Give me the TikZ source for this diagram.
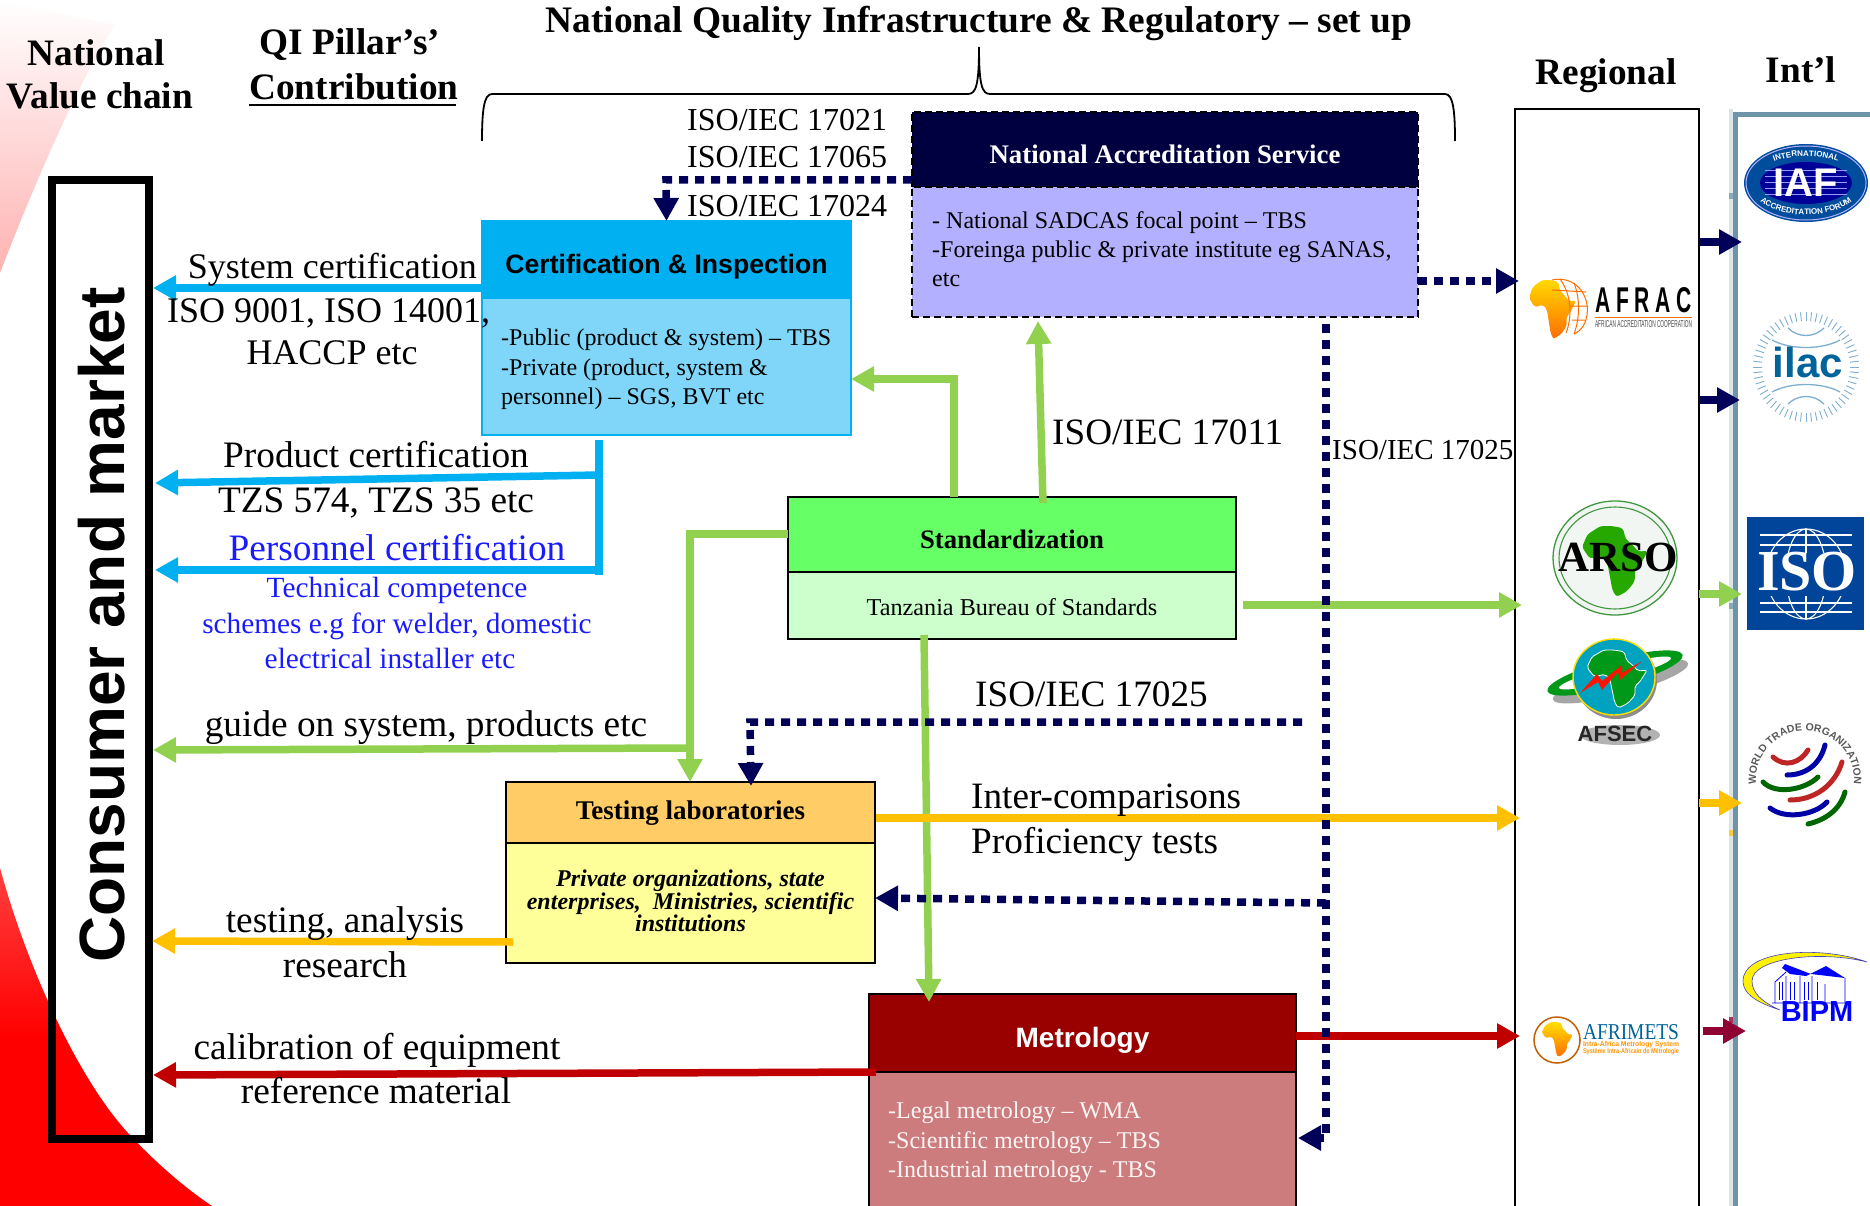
\documentclass[tikz,border=0pt]{standalone}
\usepackage{fontspec}
\usepackage{graphicx}
\setmainfont{Liberation Serif}
\setsansfont{Liberation Sans}
\usetikzlibrary{arrows.meta,decorations.text,calc}
\definecolor{cblue}{HTML}{00B0F0}
\definecolor{cbluebody}{HTML}{7FD6F8}
\definecolor{cnavy}{HTML}{000058}
\definecolor{cnavyhead}{HTML}{000040}
\definecolor{cviolet}{HTML}{B3B0FF}
\definecolor{cgreen}{HTML}{92D050}
\definecolor{cstd}{HTML}{66FF66}
\definecolor{cstdbody}{HTML}{CCFFCC}
\definecolor{cgold}{HTML}{FFC000}
\definecolor{ctest}{HTML}{FFCC66}
\definecolor{ctestbody}{HTML}{FFFF99}
\definecolor{cred}{HTML}{C00000}
\definecolor{cmet}{HTML}{990000}
\definecolor{cmetbody}{HTML}{CC7C7C}
\definecolor{cmaroon}{HTML}{8F0033}
\definecolor{cframe}{HTML}{6D94A8}
\definecolor{ctxtblue}{HTML}{1A1AFF}
\newcommand{\tsize}[1]{\fontsize{#1}{#1}\selectfont}
\newcommand{\africashape}{(0.28,0)--(0.45,0)--(0.62,0.03)--(0.66,0.18)--(0.78,0.28)--(0.85,0.36)--(1,0.35)--(0.88,0.55)--(0.8,0.62)--(0.8,0.78)--(0.68,0.92)--(0.52,1)--(0.46,0.9)--(0.42,0.7)--(0.38,0.5)--(0.3,0.42)--(0.12,0.46)--(0,0.3)--(0.08,0.12)--cycle}
\tikzset{
  x=1pt,y=-1pt,
  lab/.style={inner sep=0pt,anchor=base,font=\tsize{37.3}},
  labw/.style={inner sep=0pt,anchor=base west,font=\tsize{37.2}},
  blab/.style={lab,text=ctxtblue},
  head/.style={inner sep=0pt,font=\tsize{27}\bfseries,text depth=0pt,
    minimum width=#1,outer sep=0pt},
  bodybox/.style={inner sep=0pt,minimum width=#1,outer sep=0pt},
  bodytxt/.style={inner sep=0pt,anchor=north west,align=left,font=\fontsize{24}{29.3}\selectfont},
  accrdash/.style={draw=black,dash pattern=on 7pt off 4pt,line width=2pt},
  solidarrow/.style={line width=7.5pt,color=#1,line join=miter,-{Triangle[length=23pt,width=24pt]}},
  dotarrow/.style={line width=7.5pt,color=cnavy,dash pattern=on 9pt off 7pt,line join=miter,-{Triangle[length=23pt,width=24pt]}},
  plainbar/.style={line width=7.5pt,color=#1}
}
\begin{document}
\begin{tikzpicture}
\useasboundingbox (0,0) rectangle (1870,1206);
\clip (0,0) rectangle (1870,1206);
% background swooshes
\shade[top color=white,bottom color=red!30] (0,0) -- (115,25) .. controls (80,80) and (40,170) .. (0,273) -- cycle;
\shade[top color=red!75,bottom color=red,middle color=red] (0,868) .. controls (25,960) and (75,1075) .. (128,1133) .. controls (155,1162) and (185,1188) .. (212,1206) -- (0,1206) -- cycle;

% frames
\node[draw=black,line width=8pt,minimum width=97pt,minimum height=959pt,inner sep=0pt] (consumer) at (100.5,659.5) {};
\node[rotate=90,inner sep=0pt,font=\sffamily\bfseries\tsize{64}] (consumertxt) at (101.5,625) {Consumer and market};
\node[draw=black,line width=2.5pt,minimum width=184pt,minimum height=1107pt,inner sep=0pt,outer sep=0pt] (reg) at (1607,662.5) {};
\fill[cframe!25] (1729,109) rectangle (1733,1206);
\node[draw=cframe,line width=5pt,minimum width=150pt,minimum height=1101pt,inner sep=0pt,outer sep=0pt] (intl) at (1810,665.5) {};
\foreach \yy/\cc in {196/cframe,606/cframe,833/cgold,1020/cmaroon} \fill[\cc!80] (1729,\yy-3) rectangle (1733,\yy+3);

% brace
\draw[line width=1.8pt,black] (482,141) .. controls (482,110) and (484,94) .. (492,94) -- (968,94) .. controls (976,94) and (979,85) .. (979,47) .. controls (979,85) and (982,94) .. (990,94) -- (1445,94) .. controls (1453,94) and (1455,110) .. (1455,141);

% boxes
\node[head=369pt,fill=cblue,draw=cblue,line width=1.5pt,minimum height=77pt,text height=27pt,font=\sffamily\bfseries\tsize{26.6}] (certhead) at (666.5,259.5) {Certification \& Inspection};
\node[bodybox=369pt,fill=cbluebody,draw=cblue,line width=2pt,minimum height=137pt] (certbody) at (666.5,366.5) {};
\node[head=506pt,fill=cnavyhead,accrdash,minimum height=75pt,text height=28pt,text=white,font=\bfseries\tsize{26.8}] (accrhead) at (1165,149.5) {National Accreditation Service};
\node[bodybox=506pt,fill=cviolet,accrdash,minimum height=130pt] (accrbody) at (1165,252) {};
\node[head=448pt,fill=cstd,draw=black,line width=2pt,minimum height=75pt,text height=28pt,font=\bfseries\tsize{26.7}] (stdhead) at (1012,534.5) {Standardization};
\node[bodybox=448pt,fill=cstdbody,draw=black,line width=2pt,minimum height=67pt,text height=19pt,text depth=0pt,font=\tsize{24.2}] (stdbody) at (1012,605.5) {Tanzania Bureau of Standards};
\node[head=369pt,fill=ctest,draw=black,line width=2pt,minimum height=61pt,text height=14pt,font=\bfseries\tsize{27}] (testhead) at (690.5,812.5) {Testing laboratories};
\node[bodybox=369pt,fill=ctestbody,draw=black,line width=2pt,minimum height=120pt] (testbody) at (690.5,903) {};
\node[head=427pt,fill=cmet,draw=black,line width=2pt,minimum height=78pt,text height=28pt,text=white,font=\sffamily\bfseries\tsize{28}] (methead) at (1082.5,1033) {Metrology};
\node[bodybox=427pt,fill=cmetbody,draw=black,line width=2pt,minimum height=144pt] (metbody) at (1082.5,1144) {};

% named junctions
\coordinate (ySys) at (0,288);
\coordinate (barTop) at (599,440);
\coordinate (barBot) at (599,575);
\coordinate (prodS) at (599,475);
\coordinate (prodE) at (155,483);
\coordinate (persS) at (599,570);
\coordinate (persE) at (155,570);
\coordinate (jCert) at (954,379);
\coordinate (upS) at (1043,503);
\coordinate (upE) at (1038,321);
\coordinate (jTest) at (690,534);
\coordinate (jGuide) at (690,748);
\coordinate (guideE) at (153,750);
\coordinate (stdR) at (1243,605);
\coordinate (regStd) at (1522,605);
\coordinate (metS) at (924,635);
\coordinate (metE) at (929,1002);
\coordinate (goldR) at (876,818);
\coordinate (goldE) at (1520,818);
\coordinate (goldL) at (513,942);
\coordinate (goldLE) at (152,941);
\coordinate (redR) at (1520,1036);
\coordinate (redLS) at (876,1072);
\coordinate (redLE) at (153,1075);
\coordinate (yA) at (0,242);
\coordinate (yB) at (0,400);
\coordinate (yC) at (0,594);
\coordinate (yD) at (0,803);
\coordinate (yE) at (0,1031);
\coordinate (dCert) at (666,180);
\coordinate (dReg) at (1519,281);
\coordinate (dTop) at (1326,324);
\coordinate (dBot) at (1326,1138);
\coordinate (dMet) at (1298,1138);
\coordinate (d25a) at (1302,722);
\coordinate (d25b) at (750,722);
\coordinate (d25c) at (751,786);
\coordinate (dT) at (1326,903);
\coordinate (dTE) at (875,898);

% solid connectors
\draw[solidarrow=cblue] (certhead.west |- ySys) -- (consumer.east |- ySys);
\draw[plainbar=cblue] (barTop) -- (barBot);
\draw[solidarrow=cblue] (prodS) -- (prodE);
\draw[solidarrow=cblue] (persS) -- (persE);
\draw[solidarrow=cgreen] (stdhead.north -| jCert) -- (jCert) -- (certbody.east |- jCert);
\draw[solidarrow=cgreen] (upS) -- (upE);
\draw[solidarrow=cgreen] (stdhead.west |- jTest) -- (jTest) -- (testhead.north -| jTest);
\draw[solidarrow=cgreen] (jGuide) -- (guideE);
\draw[solidarrow=cgreen] (stdR) -- (regStd);
\draw[solidarrow=cgreen] (metS) -- (metE);
\draw[solidarrow=cgold] (goldR) -- (goldE);
\draw[solidarrow=cgold] (goldL) -- (goldLE);
\draw[solidarrow=cred] (methead.east |- redR) -- (redR);
\draw[solidarrow=cred] (redLS) -- (redLE);
\draw[solidarrow=cnavy] (reg.east |- yA) -- ([xshift=7pt]intl.west |- yA);
\draw[solidarrow=cnavy] (reg.east |- yB) -- ([xshift=5pt]intl.west |- yB);
\draw[solidarrow=cgreen] (reg.east |- yC) -- ([xshift=7pt]intl.west |- yC);
\draw[solidarrow=cgold] (reg.east |- yD) -- ([xshift=7pt]intl.west |- yD);
\draw[solidarrow=cmaroon] ([xshift=4pt]reg.east |- yE) -- ([xshift=11pt]intl.west |- yE);

% dotted connectors
\draw[dotarrow] (accrhead.west |- dCert) -- (dCert) -- (certhead.north);
\draw[dotarrow] (accrbody.east |- dReg) -- (dReg);
\draw[dotarrow] (dTop) -- (dBot) -- (dMet);
\draw[dotarrow] (d25a) -- (d25b) -- (d25c);
\draw[dotarrow] (dT) -- (dTE);

% headings
\node[lab,font=\bfseries\tsize{37.3}] (hNat) at (96,66) {National};
\node[lab,font=\bfseries\tsize{37.3}] (hVal) at (100,109) {Value chain};
\node[lab,font=\bfseries\tsize{37.3}] (hQI) at (350,55) {QI Pillar's’};
\node[lab,font=\bfseries\tsize{37.3}] (hCon) at (354,100) {Contribution};
\draw[line width=2.5pt,black] (hCon.base west) ++(0,5) -- ++(207,0);
\node[lab,font=\bfseries\tsize{37.4}] (hTitle) at (979,33) {National Quality Infrastructure \& Regulatory – set up};
\node[lab,font=\bfseries\tsize{37.3}] (hReg) at (1606,85) {Regional};
\node[lab,font=\bfseries\tsize{37.3}] (hInt) at (1801,83) {Int’l};

% left labels
\node[lab,anchor=base east,font=\tsize{36}] (lSys) at (477,278) {System certification};
\node[labw,font=\tsize{36}] (lIso) at (167,322) {ISO 9001, ISO 14001,};
\node[lab,font=\tsize{36}] (lHac) at (332,364) {HACCP etc};
\node[lab] (lProd) at (376,467) {Product certification};
\node[lab] (lTzs) at (376,512) {TZS 574, TZS 35 etc};
\node[blab] (lPers) at (397,560) {Personnel certification};
\node[blab,font=\tsize{29.3}] (lTech) at (397,597) {Technical competence};
\node[blab,font=\tsize{29.3}] (lSch) at (397,633) {schemes e.g for welder, domestic};
\node[blab,font=\tsize{29.3}] (lEle) at (390,668) {electrical installer etc};
\node[lab] (lGui) at (426,736) {guide on system, products etc};
\node[lab] (lTest) at (345,932) {testing, analysis};
\node[lab] (lRes) at (345,977) {research};
\node[lab] (lCal) at (377,1059) {calibration of equipment};
\node[lab] (lRef) at (376,1103) {reference material};

% standards labels
\node[labw,font=\tsize{32}] (s21) at (687,131) {ISO/IEC 17021};
\node[labw,font=\tsize{32}] (s65) at (687,168) {ISO/IEC 17065};
\node[labw,font=\tsize{32}] (s24) at (687,217) {ISO/IEC 17024};
\node[labw] (s11) at (1052,444) {ISO/IEC 17011};
\node[labw,font=\tsize{29}] (s25a) at (1332,459) {ISO/IEC 17025};
\node[labw] (s25b) at (975,706) {ISO/IEC 17025};
\node[labw] (sInt) at (971,808) {Inter-comparisons};
\node[labw] (sPro) at (971,853) {Proficiency tests};

% box bodies
\node[bodytxt] (tCert) at (501,329) {-Public (product \& system) – TBS\\-Private (product, system \&\\personnel) – SGS, BVT etc};
\node[bodytxt] (tAccr) at (932,211) {- National SADCAS focal point – TBS\\-Foreinga public \& private institute eg SANAS,\\etc};
\node[inner sep=0pt,align=center,font=\bfseries\itshape\fontsize{24}{22.5}\selectfont,anchor=north] (tTest) at (690.5,870) {Private organizations, state\\enterprises,\ \ Ministries, scientific\\institutions};
\node[bodytxt,text=white!92!cmetbody] (tMet) at (888,1102) {-Legal metrology – WMA\\-Scientific metrology – TBS\\-Industrial metrology - TBS};

% ===== logos =====
% IAF
\fill[blue!45!black!70!cyan] (1806,183) ellipse [x radius=62pt,y radius=39pt];
\draw[white!70!blue,line width=1pt] (1806,183) ellipse [x radius=60pt,y radius=37pt];
\fill[blue!60!black] (1806,183) ellipse [x radius=46pt,y radius=21pt];
\foreach \yy in {170,176,182,188,194} \draw[white!60!blue,line width=.8pt] (1765,\yy) -- (1847,\yy);
\node[inner sep=0pt,text=white,font=\sffamily\bfseries\tsize{40}] (logoIaf) at (1806,183) {IAF};
\path[decoration={text along path,text={|\sffamily\bfseries\tsize{8}\color{white}|INTERNATIONAL},text align=center},decorate] plot[domain=165:15,samples=30] ({1806+52*cos(\x)},{183-27*sin(\x)});
\path[decoration={text along path,text={|\sffamily\bfseries\tsize{8}\color{white}|ACCREDITATION FORUM},text align=center},decorate] plot[domain=195:345,samples=30] ({1806+56*cos(\x)},{183-32*sin(\x)});

% ilac
\foreach \a in {0,6,...,354} \draw[blue!40!cyan!45!gray!70,line width=.9pt] ({1806+44*cos(\a)},{367-46*sin(\a)}) -- ({1806+53*cos(\a)},{367-55*sin(\a)});
\draw[blue!40!cyan!45!gray!70,line width=1.3pt] (1788,328) .. controls (1798,338) and (1814,338) .. (1824,328);
\draw[blue!40!cyan!45!gray!70,line width=1.3pt] (1772,340) .. controls (1790,350) and (1822,350) .. (1840,340);
\draw[blue!40!cyan!45!gray!70,line width=1.3pt] (1772,392) .. controls (1790,382) and (1822,382) .. (1840,392);
\draw[blue!40!cyan!45!gray!70,line width=1.3pt] (1788,404) .. controls (1798,394) and (1814,394) .. (1824,404);
\node[inner sep=0pt,text=blue!35!cyan!60!black,font=\sffamily\bfseries\tsize{42}] (logoIlac) at (1808,362) {ilac};

% ISO
\node[fill=blue!55!cyan!60!black,minimum width=117pt,minimum height=113pt,inner sep=0pt] (logoIsoBox) at (1805.5,573.5) {};
\begin{scope}
\clip (1750,528) rectangle (1860,553) (1750,596) rectangle (1860,620);
\foreach \rx in {0,20,40} \draw[white,line width=1.1pt] (1806,574) ellipse [x radius=\rx pt,y radius=45pt];
\foreach \yy in {535,545,603,612} \draw[white,line width=1.1pt] (1760,\yy) -- (1852,\yy);
\end{scope}
\node[inner sep=0pt,text=white,font=\bfseries\tsize{58}] (logoIso) at (1807,572) {ISO};

% WTO
\foreach \cc/\pth in {
  {red!70!black!85}/{(1773,757) .. controls (1785,768) and (1800,763) .. (1808,750)},
  {blue!65!black}/{(1787,775) .. controls (1805,775) and (1820,765) .. (1825,745)},
  {green!40!black}/{(1763,782) .. controls (1775,795) and (1805,790) .. (1818,777)},
  {red!70!black!85}/{(1790,800) .. controls (1815,800) and (1835,785) .. (1842,762)},
  {blue!65!black}/{(1770,808) .. controls (1785,820) and (1815,815) .. (1827,802)},
  {green!40!black}/{(1808,824) .. controls (1825,820) and (1840,810) .. (1845,792)}}
  {\draw[color=\cc,line width=5pt,line cap=round] \pth;}
\path[decoration={text along path,text={|\sffamily\bfseries\tsize{10.5}\color{black!65}|WORLD TRADE ORGANIZATION},text align=center},decorate] plot[domain=205:-25,samples=40] ({1805+49*cos(\x)},{779-48*sin(\x)});

% BIPM
\fill[yellow,draw=blue!50!gray,line width=.6pt] (1867,962) .. controls (1820,945) and (1743,950) .. (1743,981) .. controls (1743,997) and (1765,1005) .. (1780,1010) .. controls (1762,1002) and (1752,993) .. (1752,981) .. controls (1752,958) and (1820,950) .. (1867,962) -- cycle;
\fill[blue] (1782,968) -- (1785,964) -- (1811,974) -- (1845,978) -- (1826,966) -- (1806,976) -- (1790,974) -- cycle;
\draw[blue,line width=.8pt] (1772,1003) -- (1845,1003) -- (1845,978) (1775,1003) -- (1775,982) -- (1786,972) (1786,1003) -- (1786,976) (1800,1003) -- (1800,976) (1812,1003) -- (1812,976) (1825,1003) -- (1825,984);
\foreach \xx in {1779,1782,1790,1794,1804,1808,1817} \draw[blue,line width=.7pt] (\xx,982) -- (\xx,1000);
\node[inner sep=0pt,text=blue,font=\sffamily\bfseries\tsize{29}] (logoBipm) at (1817,1012) {BIPM};

% AFRAC
\begin{scope}[shift={(1529,280)},xscale=47,yscale=59]
\shade[top color=yellow!70!orange,bottom color=orange!85!red,rounded corners=2pt] \africashape;
\end{scope}
\draw[orange!85!red,line width=1pt] (1552,280) .. controls (1575,275) and (1590,295) .. (1587,315) .. controls (1585,328) and (1578,332) .. (1574,334);
\draw[orange!85!red,line width=1pt] (1560,279) .. controls (1572,295) and (1572,318) .. (1566,333);
\draw[orange!85!red,line width=1pt] (1574,283) .. controls (1580,298) and (1580,318) .. (1574,334);
\draw[orange!85!red,line width=1pt] (1552,290) -- (1586,292) (1570,306) -- (1588,306) (1572,320) -- (1585,320);
\node[inner sep=0pt,font=\sffamily\bfseries] (logoAfrac) at (1643.5,300) {\resizebox{97pt}{25pt}{A F R A C}};
\draw[orange!85!red,line width=1pt] (1595,317) -- (1692,317);
\node[inner sep=0pt,font=\sffamily,text=black!70] (logoAfracS) at (1643.5,324) {\resizebox{97pt}{7pt}{AFRICAN ACCREDITATION COOPERATION}};

% ARSO
\fill[green!25!black!5!white,draw=green!45!black!75,line width=1.3pt] (1615,558) ellipse [x radius=62pt,y radius=57pt];
\draw[green!45!black!75,line width=1.1pt] (1615,558) ellipse [x radius=56pt,y radius=51pt];
\begin{scope}[shift={(1582,526)},xscale=66,yscale=71]
\fill[green!60!black!85!yellow,rounded corners=3pt] \africashape;
\end{scope}
\node[inner sep=0pt,font=\bfseries\tsize{43}] (logoArso) at (1618,557) {ARSO};

% AFSEC
\fill[black!30] (1620,735) ellipse [x radius=40pt,y radius=10pt];
\fill[black!35,rotate around={15:(1618,680)}] (1620,682) ellipse [x radius=70pt,y radius=13pt];
\fill[green!55!black!90!cyan,rotate around={15:(1615,673)}] (1615,673) ellipse [x radius=70pt,y radius=14pt];
\fill[white,rotate around={15:(1615,673)}] (1615,673) ellipse [x radius=58pt,y radius=7pt];
\fill[black!45] (1616,680) ellipse [x radius=41pt,y radius=39pt];
\fill[blue!15!cyan!75!black,draw=yellow!80!orange,line width=1.4pt] (1614,677) ellipse [x radius=41pt,y radius=38pt];
\begin{scope}[shift={(1587,650)},xscale=60,yscale=58]
\fill[green!55!black!90!cyan,draw=white,line width=.8pt,rounded corners=2pt] \africashape;
\end{scope}
\fill[red!85!orange] (1580,693) -- (1597,674) -- (1602,681) -- (1622,665) -- (1622,673) -- (1642,661) -- (1620,680) -- (1618,672) -- (1602,690) -- (1598,682) -- cycle;
\node[inner sep=0pt,font=\sffamily\bfseries\tsize{22},text=black!85] (logoAfsec) at (1615,734) {AFSEC};

% AFRIMETS
\draw[orange!75!black,line width=1.5pt] (1557,1040) circle [radius=23pt];
\begin{scope}[shift={(1542,1022)},xscale=31,yscale=35]
\shade[top color=yellow!75!orange,bottom color=orange!85!red,rounded corners=1.5pt] \africashape;
\end{scope}
\node[inner sep=0pt,text=blue!35!cyan!60!black] (logoAfri) at (1631,1032) {\resizebox{96pt}{15pt}{AFRIMETS}};
\node[inner sep=0pt,font=\sffamily\bfseries,text=orange!85!yellow] (logoAfriA) at (1631,1045) {\resizebox{96pt}{5pt}{Intra-Africa Metrology System}};
\node[inner sep=0pt,font=\sffamily\bfseries,text=orange!85!yellow] (logoAfriB) at (1631,1051.5) {\resizebox{96pt}{5pt}{Système Intra-Africain de Métrologie}};
\end{tikzpicture}
\end{document}
